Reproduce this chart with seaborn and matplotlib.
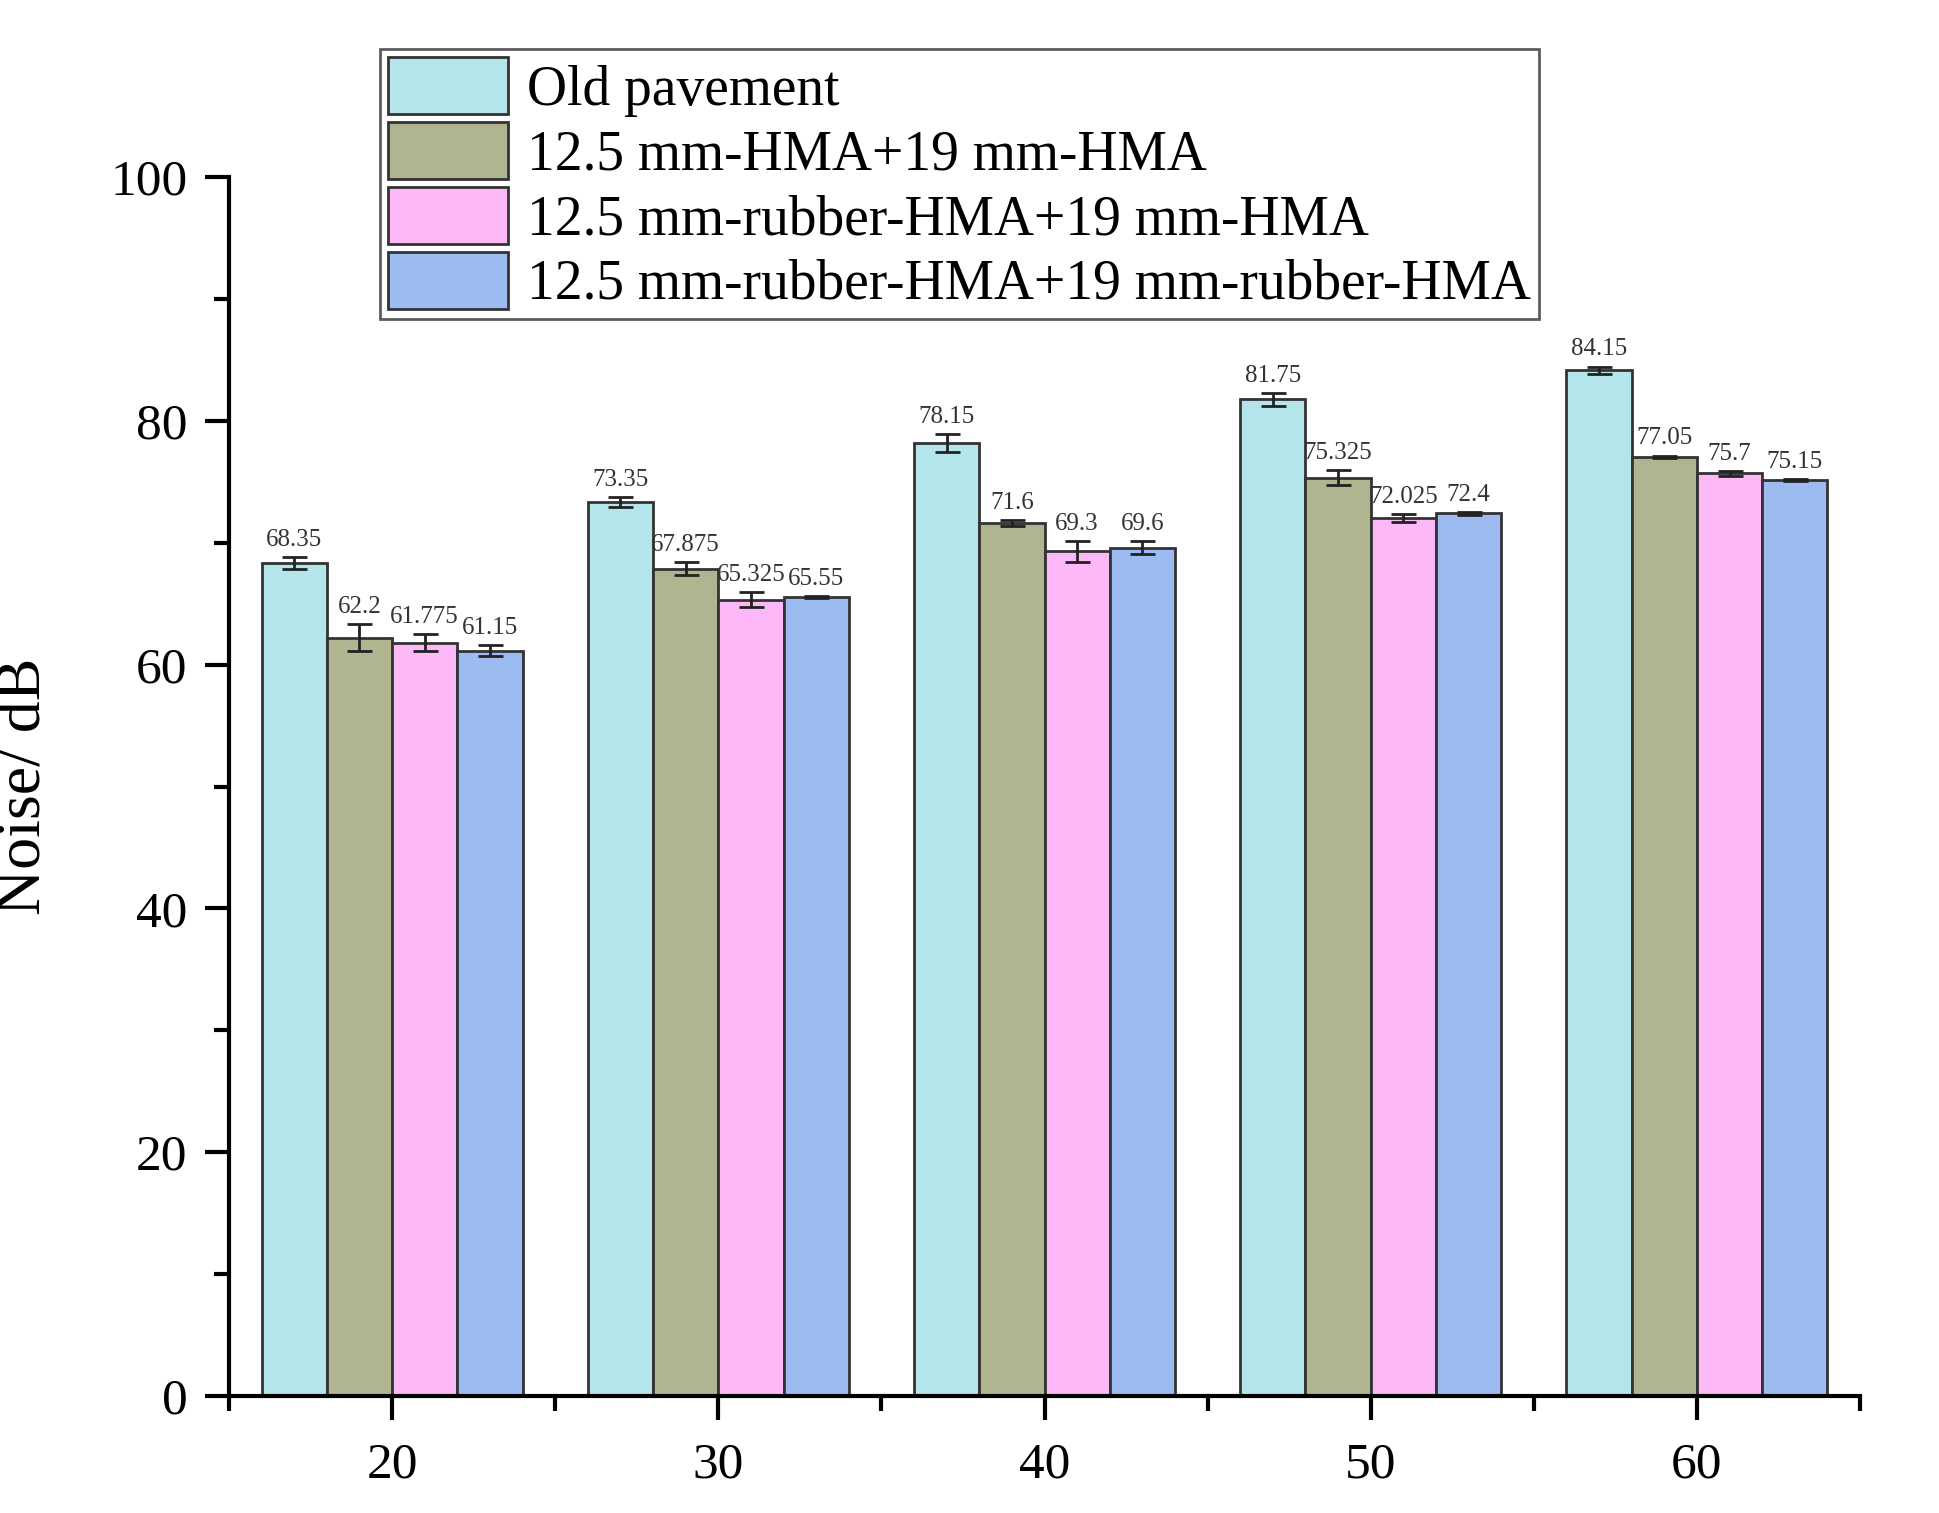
import numpy as np
import pandas as pd
import matplotlib
matplotlib.use("Agg")
import matplotlib.pyplot as plt
import matplotlib.patches as mpatches
from matplotlib.ticker import MultipleLocator, FixedLocator
import seaborn as sns

# data
speeds = ['20', '30', '40', '50', '60']
pavements = ['Old pavement',
             '12.5 mm-HMA+19 mm-HMA',
             '12.5 mm-rubber-HMA+19 mm-HMA',
             '12.5 mm-rubber-HMA+19 mm-rubber-HMA']
old_pav = [68.35, 73.35, 78.15, 81.75, 84.15]
hma_hma = [62.2, 67.875, 71.6, 75.325, 77.05]
rub_hma = [61.775, 65.325, 69.3, 72.025, 75.7]
rub_rub = [61.15, 65.55, 69.6, 72.4, 75.15]
old_err = [0.5, 0.4, 0.75, 0.5, 0.3]
hma_err = [1.1, 0.55, 0.25, 0.6, 0.1]
rhm_err = [0.7, 0.6, 0.85, 0.3, 0.2]
rrb_err = [0.45, 0.1, 0.5, 0.1, 0.1]
colors = ['#B3E5EA', '#B1B58F', '#FDB8F8', '#9BBBF1']

values = [old_pav, hma_hma, rub_hma, rub_rub]
errors = [old_err, hma_err, rhm_err, rrb_err]

df = pd.DataFrame({
    'speed': speeds * 4,
    'pavement': np.repeat(pavements, len(speeds)),
    'noise': np.concatenate(values),
})

sns.set_style('white')
plt.rcParams['font.family'] = ['Liberation Serif', 'DejaVu Serif']
plt.rcParams['text.color'] = 'black'
plt.rcParams['axes.labelcolor'] = 'black'
plt.rcParams['xtick.color'] = 'black'
plt.rcParams['ytick.color'] = 'black'

fig = plt.figure(figsize=(19.39, 15.13), dpi=100)
ax = fig.add_axes([229/1939, 1-1396/1513, (1860-229)/1939, (1396-177)/1513])

sns.barplot(data=df, x='speed', y='noise', hue='pavement', order=speeds,
            hue_order=pavements, palette=colors, edgecolor='#333333',
            linewidth=2, saturation=1, errorbar=None, width=0.8, ax=ax)

# error bars and value labels
bar_conts = list(ax.containers)
for i, cont in enumerate(bar_conts):
    for j, bar in enumerate(cont):
        xc = bar.get_x() + bar.get_width()/2
        h = values[i][j]
        e = errors[i][j]
        ax.errorbar(xc, h, yerr=e, fmt='none', ecolor='#222222',
                    elinewidth=2, capsize=9, capthick=2)
        ax.text(xc, h + e + 0.5, f'{h:g}', ha='center', va='bottom',
                fontsize=18, color='#333333')

ax.set_xlim(-0.5, 4.5)
ax.set_ylim(0, 100)
ax.xaxis.set_minor_locator(FixedLocator(np.arange(-0.5, 5, 1)))
ax.yaxis.set_major_locator(MultipleLocator(20))
ax.yaxis.set_minor_locator(MultipleLocator(10))
ax.tick_params(axis='both', which='major', direction='out', length=17,
               width=3, labelsize=37, color='black', labelcolor='black')
ax.tick_params(axis='both', which='minor', direction='out', length=11,
               width=3, color='black')
ax.tick_params(axis='x', which='major', pad=16)
ax.tick_params(axis='y', which='major', pad=13)
ax.tick_params(bottom=True, left=True, which='both')

for s in ['top', 'right']:
    ax.spines[s].set_visible(False)
for s in ['left', 'bottom']:
    ax.spines[s].set_linewidth(3)
    ax.spines[s].set_color('black')

ax.set_xlabel('')
ax.set_ylabel('Noise/ dB', fontsize=46, color='black')
ax.yaxis.set_label_coords(-0.107, 0.5)

ax.get_legend().remove()
handles = [mpatches.Patch(facecolor=c, edgecolor='#333333', linewidth=2)
           for c in colors]
leg = ax.legend(handles, pavements, loc='upper left',
                bbox_to_anchor=(380/1939, 1-49/1513),
                bbox_transform=fig.transFigure, fontsize=40,
                handlelength=2.15, handleheight=1.2, labelspacing=0.1,
                handletextpad=0.35, borderpad=0.15, borderaxespad=0,
                fancybox=False, frameon=True)
leg.get_frame().set_edgecolor('#333333')
leg.get_frame().set_linewidth(2)
for t in leg.get_texts():
    t.set_color('black')

fig.savefig('out.png', dpi=100)
